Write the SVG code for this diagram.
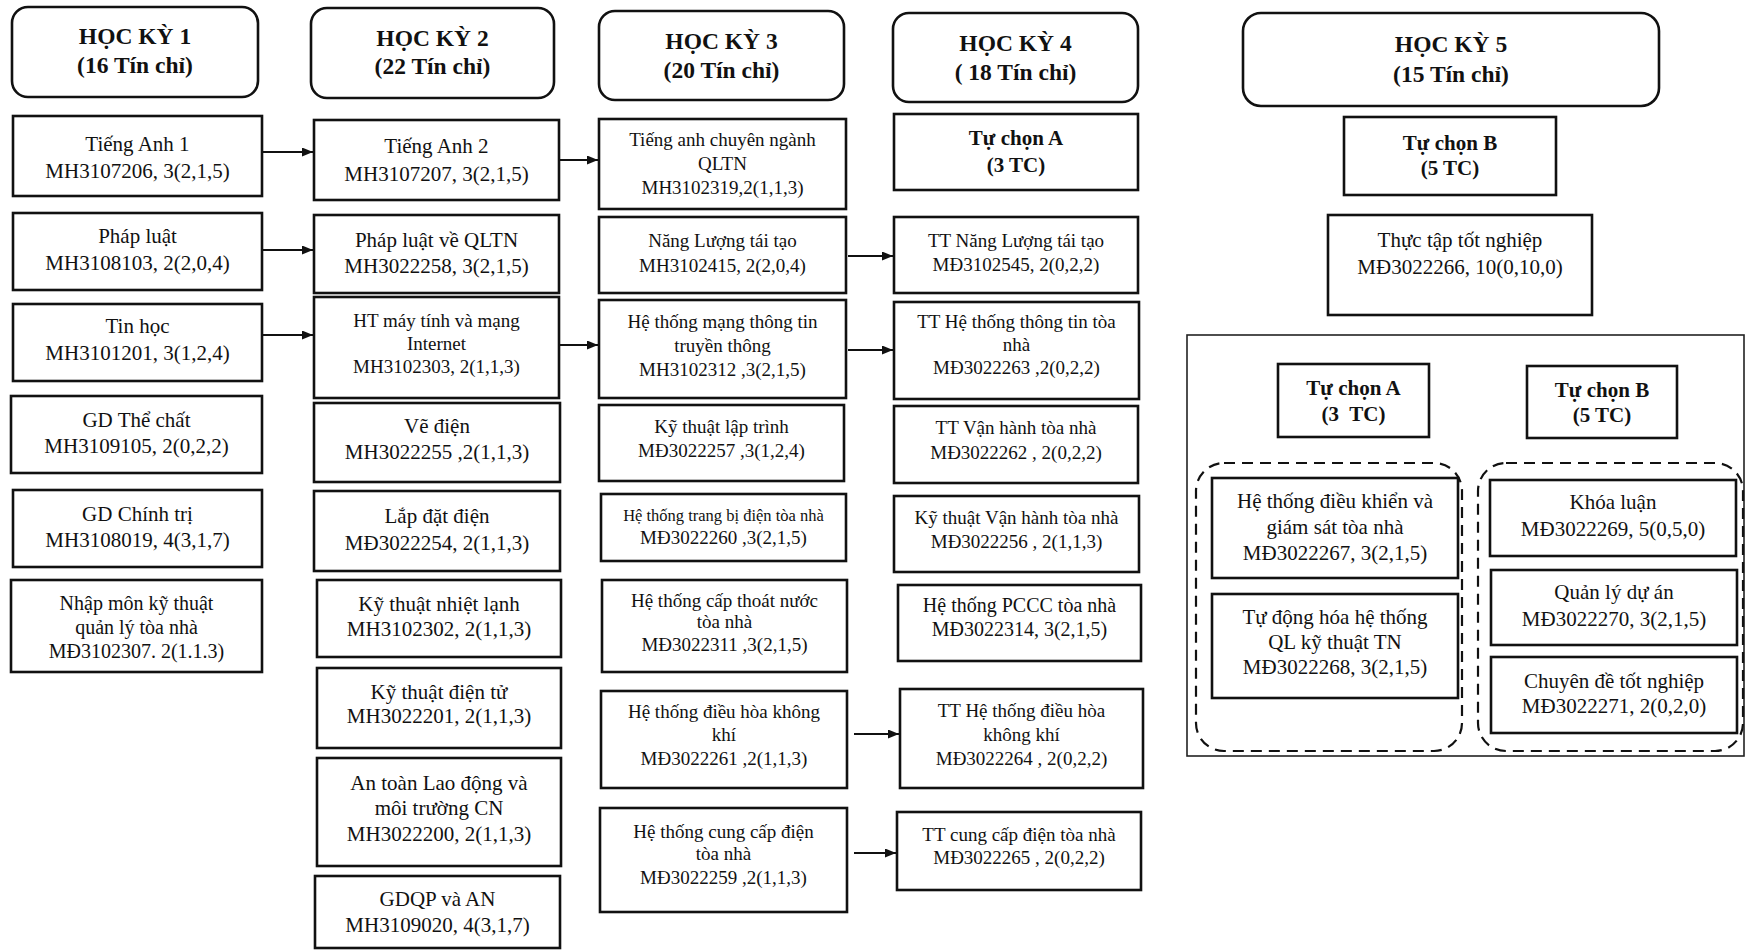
<svg xmlns="http://www.w3.org/2000/svg" width="1746" height="951" viewBox="0 0 1746 951">
<defs>
<style>
.box{fill:#fff;stroke:#111;stroke-width:2.6}
.hdr{fill:#fff;stroke:#111;stroke-width:2.6}
.dash{fill:none;stroke:#111;stroke-width:2.2;stroke-dasharray:11 7}
.outer{fill:none;stroke:#222;stroke-width:1.6}
text{font-family:"Liberation Serif","Times New Roman",serif;fill:#111;text-anchor:middle}
.h{font-weight:bold;font-size:23.5px}
.b{font-weight:bold;font-size:21px}
.s21{font-size:21px}
.s20{font-size:20px}
.s19{font-size:19px}
.s16{font-size:16.5px}
.conn{stroke:#111;stroke-width:1.8;fill:none}
</style>
<marker id="ah" markerUnits="userSpaceOnUse" markerWidth="11" markerHeight="9" refX="11" refY="4.5" orient="auto">
<path d="M0,0 L11,4.5 L0,9 z" fill="#111"/>
</marker>
</defs>
<rect x="0" y="0" width="1746" height="951" fill="#fff"/>

<!-- Column 1 -->
<g id="hk1"><rect class="hdr" x="12" y="7" width="246" height="90" rx="16"/><text class="h" x="135" y="44">HỌC KỲ 1</text><text class="h" x="135" y="73">(16 Tín chỉ)</text></g>
<g id="c1a"><rect class="box" x="13" y="116" width="249" height="80"/><text class="s21" x="137.5" y="151">Tiếng Anh 1</text><text class="s21" x="137.5" y="178">MH3107206, 3(2,1,5)</text></g>
<g id="c1b"><rect class="box" x="13" y="213" width="249" height="77"/><text class="s21" x="137.5" y="243">Pháp luật</text><text class="s21" x="137.5" y="270">MH3108103, 2(2,0,4)</text></g>
<g id="c1c"><rect class="box" x="13" y="304" width="249" height="77"/><text class="s21" x="137.5" y="333">Tin học</text><text class="s21" x="137.5" y="360">MH3101201, 3(1,2,4)</text></g>
<g id="c1d"><rect class="box" x="11" y="396" width="251" height="77"/><text class="s21" x="136.5" y="427">GD Thể chất</text><text class="s21" x="136.5" y="453">MH3109105, 2(0,2,2)</text></g>
<g id="c1e"><rect class="box" x="13" y="490" width="249" height="77"/><text class="s21" x="137.5" y="521">GD Chính trị</text><text class="s21" x="137.5" y="547">MH3108019, 4(3,1,7)</text></g>
<g id="c1f"><rect class="box" x="11" y="580" width="251" height="92"/><text class="s20" x="136.5" y="610">Nhập môn kỹ thuật</text><text class="s20" x="136.5" y="634">quản lý tòa nhà</text><text class="s20" x="136.5" y="658">MĐ3102307. 2(1.1.3)</text></g>

<!-- Column 2 -->
<g id="hk2"><rect class="hdr" x="311" y="8" width="243" height="90" rx="16"/><text class="h" x="432.5" y="46">HỌC KỲ 2</text><text class="h" x="432.5" y="74">(22 Tín chỉ)</text></g>
<g id="c2a"><rect class="box" x="314" y="120" width="245" height="80"/><text class="s21" x="436.5" y="153">Tiếng Anh 2</text><text class="s21" x="436.5" y="181">MH3107207, 3(2,1,5)</text></g>
<g id="c2b"><rect class="box" x="314" y="215" width="245" height="78"/><text class="s21" x="436.5" y="247">Pháp luật về QLTN</text><text class="s21" x="436.5" y="273">MH3022258, 3(2,1,5)</text></g>
<g id="c2c"><rect class="box" x="314" y="297" width="245" height="101"/><text class="s19" x="436.5" y="327">HT máy tính và mạng</text><text class="s19" x="436.5" y="350">Internet</text><text class="s19" x="436.5" y="373">MH3102303, 2(1,1,3)</text></g>
<g id="c2d"><rect class="box" x="314" y="403" width="246" height="79"/><text class="s21" x="437" y="433">Vẽ điện</text><text class="s21" x="437" y="459">MH3022255 ,2(1,1,3)</text></g>
<g id="c2e"><rect class="box" x="314" y="491" width="246" height="80"/><text class="s21" x="437" y="523">Lắp đặt điện</text><text class="s21" x="437" y="550">MĐ3022254, 2(1,1,3)</text></g>
<g id="c2f"><rect class="box" x="317" y="580" width="244" height="77"/><text class="s21" x="439" y="611">Kỹ thuật nhiệt lạnh</text><text class="s21" x="439" y="636">MH3102302, 2(1,1,3)</text></g>
<g id="c2g"><rect class="box" x="317" y="668" width="244" height="80"/><text class="s21" x="439" y="699">Kỹ thuật điện tử</text><text class="s21" x="439" y="723">MH3022201, 2(1,1,3)</text></g>
<g id="c2h"><rect class="box" x="317" y="758" width="244" height="108"/><text class="s21" x="439" y="790">An toàn Lao động và</text><text class="s21" x="439" y="815">môi trường CN</text><text class="s21" x="439" y="841">MH3022200, 2(1,1,3)</text></g>
<g id="c2i"><rect class="box" x="315" y="876" width="245" height="72"/><text class="s21" x="437.5" y="906">GDQP và AN</text><text class="s21" x="437.5" y="932">MH3109020, 4(3,1,7)</text></g>

<!-- Column 3 -->
<g id="hk3"><rect class="hdr" x="599" y="11" width="245" height="89" rx="16"/><text class="h" x="721.5" y="49">HỌC KỲ 3</text><text class="h" x="721.5" y="78">(20 Tín chỉ)</text></g>
<g id="c3a"><rect class="box" x="599" y="119" width="247" height="90"/><text class="s19" x="722.5" y="146">Tiếng anh chuyên ngành</text><text class="s19" x="722.5" y="170">QLTN</text><text class="s19" x="722.5" y="194">MH3102319,2(1,1,3)</text></g>
<g id="c3b"><rect class="box" x="599" y="217" width="247" height="76"/><text class="s19" x="722.5" y="247">Năng Lượng tái tạo</text><text class="s19" x="722.5" y="272">MH3102415, 2(2,0,4)</text></g>
<g id="c3c"><rect class="box" x="599" y="300" width="247" height="98"/><text class="s19" x="722.5" y="328">Hệ thống mạng thông tin</text><text class="s19" x="722.5" y="352">truyền thông</text><text class="s19" x="722.5" y="376">MH3102312 ,3(2,1,5)</text></g>
<g id="c3d"><rect class="box" x="599" y="405" width="245" height="76"/><text class="s19" x="721.5" y="433">Kỹ thuật lập trình</text><text class="s19" x="721.5" y="457">MĐ3022257 ,3(1,2,4)</text></g>
<g id="c3e"><rect class="box" x="601" y="494" width="245" height="67"/><text class="s16" x="723.5" y="521">Hệ thống trang bị điện tòa nhà</text><text class="s19" x="723.5" y="544">MĐ3022260 ,3(2,1,5)</text></g>
<g id="c3f"><rect class="box" x="602" y="580" width="245" height="92"/><text class="s19" x="724.5" y="607">Hệ thống cấp thoát nước</text><text class="s19" x="724.5" y="628">tòa nhà</text><text class="s19" x="724.5" y="651">MĐ3022311 ,3(2,1,5)</text></g>
<g id="c3g"><rect class="box" x="601" y="691" width="246" height="97"/><text class="s19" x="724" y="718">Hệ thống điều hòa không</text><text class="s19" x="724" y="741">khí</text><text class="s19" x="724" y="765">MĐ3022261 ,2(1,1,3)</text></g>
<g id="c3h"><rect class="box" x="600" y="808" width="247" height="104"/><text class="s19" x="723.5" y="838">Hệ thống cung cấp điện</text><text class="s19" x="723.5" y="860">tòa nhà</text><text class="s19" x="723.5" y="884">MĐ3022259 ,2(1,1,3)</text></g>

<!-- Column 4 -->
<g id="hk4"><rect class="hdr" x="893" y="13" width="245" height="89" rx="16"/><text class="h" x="1015.5" y="51">HỌC KỲ 4</text><text class="h" x="1015.5" y="80">( 18 Tín chỉ)</text></g>
<g id="c4a"><rect class="box" x="894" y="114" width="244" height="76"/><text class="b" x="1016" y="145">Tự chọn A</text><text class="b" x="1016" y="172">(3 TC)</text></g>
<g id="c4b"><rect class="box" x="894" y="217" width="244" height="76"/><text class="s19" x="1016" y="247">TT Năng Lượng tái tạo</text><text class="s19" x="1016" y="271">MĐ3102545, 2(0,2,2)</text></g>
<g id="c4c"><rect class="box" x="894" y="302" width="245" height="97"/><text class="s19" x="1016.5" y="328">TT Hệ thống thông tin tòa</text><text class="s19" x="1016.5" y="351">nhà</text><text class="s19" x="1016.5" y="374">MĐ3022263 ,2(0,2,2)</text></g>
<g id="c4d"><rect class="box" x="894" y="406" width="244" height="77"/><text class="s19" x="1016" y="434">TT Vận hành tòa nhà</text><text class="s19" x="1016" y="459">MĐ3022262 , 2(0,2,2)</text></g>
<g id="c4e"><rect class="box" x="894" y="496" width="245" height="76"/><text class="s19" x="1016.5" y="524">Kỹ thuật Vận hành tòa nhà</text><text class="s19" x="1016.5" y="548">MĐ3022256 , 2(1,1,3)</text></g>
<g id="c4f"><rect class="box" x="898" y="585" width="243" height="76"/><text class="s20" x="1019.5" y="612">Hệ thống PCCC tòa nhà</text><text class="s20" x="1019.5" y="636">MĐ3022314, 3(2,1,5)</text></g>
<g id="c4g"><rect class="box" x="900" y="689" width="243" height="99"/><text class="s19" x="1021.5" y="717">TT Hệ thống điều hòa</text><text class="s19" x="1021.5" y="741">không khí</text><text class="s19" x="1021.5" y="765">MĐ3022264 , 2(0,2,2)</text></g>
<g id="c4h"><rect class="box" x="897" y="812" width="244" height="78"/><text class="s19" x="1019" y="841">TT cung cấp điện tòa nhà</text><text class="s19" x="1019" y="864">MĐ3022265 , 2(0,2,2)</text></g>

<!-- Column 5 -->
<g id="hk5"><rect class="hdr" x="1243" y="13" width="416" height="93" rx="18"/><text class="h" x="1451" y="52">HỌC KỲ 5</text><text class="h" x="1451" y="82">(15 Tín chỉ)</text></g>
<g id="c5a"><rect class="box" x="1344" y="117" width="212" height="78"/><text class="b" x="1450" y="150">Tự chọn B</text><text class="b" x="1450" y="175">(5 TC)</text></g>
<g id="c5b"><rect class="box" x="1328" y="215" width="264" height="100"/><text class="s21" x="1460" y="247">Thực tập tốt nghiệp</text><text class="s21" x="1460" y="274">MĐ3022266, 10(0,10,0)</text></g>

<g id="electives">
<rect class="outer" x="1187" y="335" width="557" height="421"/>
<g id="tcA"><rect class="box" x="1278" y="364" width="151" height="73"/><text class="b" x="1353.5" y="395">Tự chọn A</text><text class="b" x="1353.5" y="421" xml:space="preserve">(3  TC)</text></g>
<g id="tcB"><rect class="box" x="1527" y="366" width="150" height="72"/><text class="b" x="1602" y="397">Tự chọn B</text><text class="b" x="1602" y="422">(5 TC)</text></g>
<rect class="dash" x="1196" y="463" width="266" height="288" rx="28"/>
<rect class="dash" x="1478" y="463" width="265" height="288" rx="28"/>
<g id="e1"><rect class="box" x="1212" y="478" width="246" height="100"/><text class="s21" x="1335" y="508">Hệ thống điều khiển và</text><text class="s21" x="1335" y="534">giám sát tòa nhà</text><text class="s21" x="1335" y="560">MĐ3022267, 3(2,1,5)</text></g>
<g id="e2"><rect class="box" x="1212" y="594" width="246" height="104"/><text class="s21" x="1335" y="624">Tự động hóa hệ thống</text><text class="s21" x="1335" y="649">QL kỹ thuật TN</text><text class="s21" x="1335" y="674">MĐ3022268, 3(2,1,5)</text></g>
<g id="e3"><rect class="box" x="1490" y="480" width="246" height="76"/><text class="s21" x="1613" y="509">Khóa luận</text><text class="s21" x="1613" y="536">MĐ3022269, 5(0,5,0)</text></g>
<g id="e4"><rect class="box" x="1491" y="570" width="246" height="75"/><text class="s21" x="1614" y="599">Quản lý dự án</text><text class="s21" x="1614" y="626">MĐ3022270, 3(2,1,5)</text></g>
<g id="e5"><rect class="box" x="1491" y="657" width="246" height="76"/><text class="s21" x="1614" y="688">Chuyên đề tốt nghiệp</text><text class="s21" x="1614" y="713">MĐ3022271, 2(0,2,0)</text></g>
</g>

<!-- Connectors -->
<g id="connectors">
<line class="conn" x1="263" y1="152" x2="313" y2="152" marker-end="url(#ah)"/>
<line class="conn" x1="263" y1="250" x2="313" y2="250" marker-end="url(#ah)"/>
<line class="conn" x1="263" y1="335" x2="313" y2="335" marker-end="url(#ah)"/>
<line class="conn" x1="560" y1="160" x2="598" y2="160" marker-end="url(#ah)"/>
<line class="conn" x1="560" y1="345" x2="598" y2="345" marker-end="url(#ah)"/>
<line class="conn" x1="848" y1="256" x2="893" y2="256" marker-end="url(#ah)"/>
<line class="conn" x1="848" y1="350" x2="893" y2="350" marker-end="url(#ah)"/>
<line class="conn" x1="854" y1="734" x2="899" y2="734" marker-end="url(#ah)"/>
<line class="conn" x1="854" y1="853" x2="896" y2="853" marker-end="url(#ah)"/>
</g>
</svg>
